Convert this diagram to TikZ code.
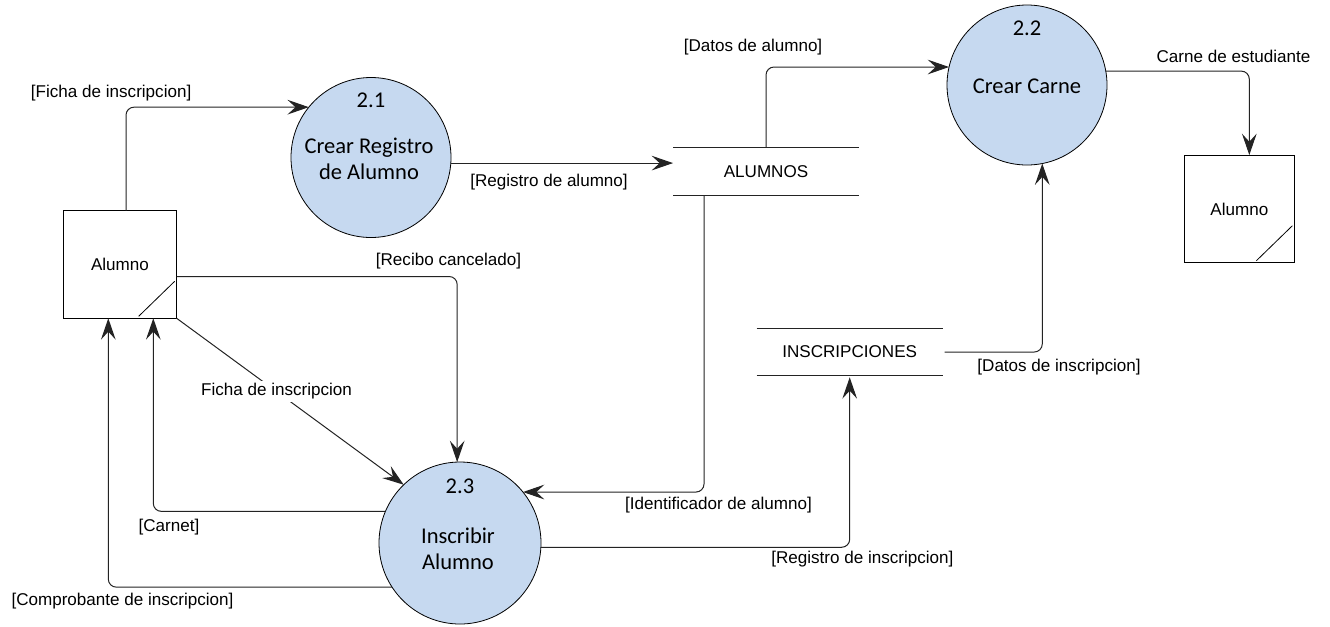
\documentclass[tikz,border=0pt]{standalone}
\usepackage{fontspec}
\setmainfont{Liberation Sans}
\newfontfamily\procfont{Carlito}
\usetikzlibrary{arrows.meta,calc}
\definecolor{procfill}{RGB}{198,217,240}
\definecolor{linegray}{RGB}{35,35,35}
\begin{document}
\begin{tikzpicture}[x=0.75pt,y=-0.75pt,
  every node/.style={inner sep=0pt,outer sep=0pt},
  proc/.style={circle,draw=black,line width=0.6pt,fill=procfill},
  proctext/.style={font=\procfont\fontsize{16.9}{19.3}\selectfont,align=center},
  entity/.style={draw=black,line width=0.8pt,fill=white,font=\fontsize{12.8}{15}\selectfont},
  store/.style={minimum width=139.5pt,font=\fontsize{12.8}{15}\selectfont},
  storeline/.style={draw=linegray,line width=0.8pt},
  flow/.style={draw=linegray,line width=0.75pt,rounded corners=6pt,
    -{Stealth[length=16pt,width=11pt,inset=6pt]}},
  lbl/.style={font=\fontsize{12.8}{15}\selectfont,text=black}]
\useasboundingbox (0,0) rectangle (1330,626);

% processes
\node[proc,minimum size=120pt] (p21) at (371,157.5) {};
\node[proctext] (n21) at (371,100.7) {2.1};
\node[proctext] (t21) at (369,159) {Crear Registro\\de Alumno};

\node[proc,minimum size=120pt] (p22) at (1027,85) {};
\node[proctext] (n22) at (1027,28.3) {2.2};
\node[proctext] (t22) at (1027,86.7) {Crear Carne};

\node[proc,minimum size=121.5pt] (p23) at (460,543) {};
\node[proctext] (n23) at (460,486.7) {2.3};
\node[proctext] (t23) at (458,548.7) {Inscribir\\Alumno};

% external entities
\node[entity,minimum width=85pt,minimum height=80.7pt] (e1) at (120,264.5) {Alumno};
\draw[line width=0.6pt] ($(e1.south east)+(-38,-2)$) -- ($(e1.south east)+(-2,-37)$);
\node[entity,minimum width=82.5pt,minimum height=80.8pt] (e2) at (1239.3,208.9) {Alumno};
\draw[line width=0.6pt] ($(e2.south east)+(-38,-2)$) -- ($(e2.south east)+(-2,-37)$);

% data stores
\node[store,minimum height=35.5pt] (d1) at (766,171.4) {ALUMNOS};
\draw[storeline] (d1.north west) -- (d1.north east) (d1.south west) -- (d1.south east);
\node[store,minimum height=35pt] (d2) at (849.7,352) {INSCRIPCIONES};
\draw[storeline] (d2.north west) -- (d2.north east) (d2.south west) -- (d2.south east);

% data flows
\draw[flow] ($(e1.north)+(6,0)$) |- (p21.141.8);
\draw[flow] (p21.356) -- (p21.356 -| d1.west);
\draw[flow] (d1.north) |- (p22.167);
\draw[flow] (p22.10.8) -| ($(e2.north)+(10,0)$);
\draw[flow] ($(d1.south west)+(31,0)$) |- (p23.39.3);
\draw[flow] ($(d2.east)+(2,0)$) -| (p22.281.8);
\draw[flow] (p23.357.9) -| ($(d2.south)+(0,2)$);
\draw[flow] ($(e1.east)+(0,12)$) -| (p23.92);
\draw[flow,rounded corners=0pt] (e1.south east) -- (p23.134.4)
  node[lbl,pos=0.44,fill=white,inner sep=2pt] (lfi) {Ficha de inscripcion};
\draw[flow] (p23.157.7) -| ($(e1.south)+(33.3,0)$);
\draw[flow] (p23.213.2) -| ($(e1.south)+(-11.7,0)$);

% flow labels
\node[lbl,anchor=west] (l1) at (31,93) {[Ficha de inscripcion]};
\node[lbl] (l2) at (549,182) {[Registro de alumno]};
\node[lbl] (l3) at (753,47) {[Datos de alumno]};
\node[lbl] (l4) at (1233.5,56) {Carne de estudiante};
\node[lbl] (l5) at (448.5,261) {[Recibo cancelado]};
\node[lbl] (l6) at (169,527) {[Carnet]};
\node[lbl] (l7) at (122.5,601) {[Comprobante de inscripcion]};
\node[lbl] (l8) at (718.5,505) {[Identificador de alumno]};
\node[lbl] (l9) at (862.4,559) {[Registro de inscripcion]};
\node[lbl] (l10) at (1059,367) {[Datos de inscripcion]};
\end{tikzpicture}
\end{document}
